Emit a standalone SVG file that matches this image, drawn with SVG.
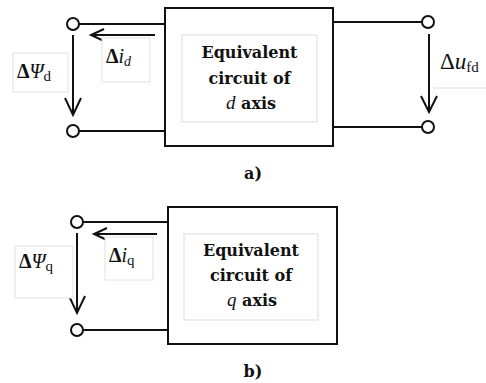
<svg xmlns="http://www.w3.org/2000/svg" width="486" height="383" viewBox="0 0 486 383">
<style>
.w{stroke:#111;stroke-width:2;fill:none}
.t{fill:#fff;stroke:#111;stroke-width:2}
.box{fill:#fff;stroke:#111;stroke-width:2}
.ib{fill:#fff;stroke:#ddd;stroke-width:1}
.lb{fill:#fff;stroke:#e2e2e2;stroke-width:1}
.bt{font-family:"DejaVu Serif","Liberation Serif",serif;font-weight:bold;font-size:16px;fill:#111;text-anchor:middle}
.m{font-family:"Liberation Serif",serif;font-size:20px;fill:#111}
.cap{font-family:"DejaVu Serif","Liberation Serif",serif;font-weight:bold;font-size:16px;fill:#111;text-anchor:middle}
.it{font-family:"Liberation Serif",serif;font-style:italic;font-weight:normal;font-size:19px}
</style>
<rect width="486" height="383" fill="#fff"/>
<g id="connectors">
<line class="w" x1="79" y1="24" x2="165" y2="24"/>
<line class="w" x1="79" y1="131" x2="165" y2="131"/>
<line class="w" x1="333" y1="22" x2="422" y2="22"/>
<line class="w" x1="333" y1="127" x2="422" y2="127"/>
<line class="w" x1="73" y1="35" x2="73" y2="115"/>
<polyline class="w" points="65,98 73,115 81,98"/>
<line class="w" x1="429" y1="34" x2="429" y2="112"/>
<polyline class="w" points="421,96 429,112 437,96"/>
<line class="w" x1="155" y1="35" x2="91" y2="35"/>
<polyline class="w" points="104,29 91,35 104,41"/>
<line class="w" x1="83" y1="222" x2="168" y2="222"/>
<line class="w" x1="83" y1="330" x2="168" y2="330"/>
<line class="w" x1="77" y1="233" x2="77" y2="313"/>
<polyline class="w" points="69,296 77,313 85,296"/>
<line class="w" x1="157" y1="234" x2="94" y2="234"/>
<polyline class="w" points="107,228 94,234 107,240"/>
</g>
<g id="terminals">
<circle class="t" cx="73" cy="24" r="6"/>
<circle class="t" cx="73" cy="131" r="6"/>
<circle class="t" cx="428" cy="22" r="6"/>
<circle class="t" cx="428" cy="127" r="6"/>
<circle class="t" cx="77" cy="222" r="6"/>
<circle class="t" cx="77" cy="330" r="6"/>
</g>
<g id="node-d">
<rect class="box" x="165" y="8" width="168" height="138"/>
<rect class="ib" x="182" y="35" width="135" height="87"/>
<text class="bt" x="249.5" y="58">Equivalent</text>
<text class="bt" x="249.5" y="84">circuit of</text>
<text class="bt" x="251" y="109"><tspan class="it">d</tspan> axis</text>
</g>
<g id="label-id">
<rect class="lb" x="102" y="38" width="48" height="44"/>
<text class="m" x="106" y="63"><tspan font-weight="bold">Δ</tspan><tspan font-style="italic">i</tspan><tspan font-style="italic" style="font-size:14px" dy="3">d</tspan></text>
</g>
<g id="label-psid">
<rect class="lb" x="13" y="53" width="55" height="39"/>
<text class="m" x="17" y="78"><tspan font-weight="bold">Δ</tspan><tspan font-style="italic">Ψ</tspan><tspan style="font-size:15px" dy="3">d</tspan></text>
</g>
<g id="label-ufd">
<line x1="433" y1="88" x2="486" y2="88" stroke="#ddd" stroke-width="1"/>
<text class="m" x="440" y="69" style="font-size:23px">Δ<tspan font-style="italic">u</tspan><tspan style="font-size:15px" dy="3">fd</tspan></text>
</g>
<g id="caption-a">
<text class="cap" x="253" y="179">a)</text>
</g>
<g id="node-q">
<rect class="box" x="168" y="207" width="169" height="137"/>
<rect class="ib" x="184" y="234" width="134" height="86"/>
<text class="bt" x="251" y="256">Equivalent</text>
<text class="bt" x="251" y="281">circuit of</text>
<text class="bt" x="252" y="306"><tspan class="it">q</tspan> axis</text>
</g>
<g id="label-iq">
<rect class="lb" x="105" y="237" width="48" height="43"/>
<text class="m" x="109" y="262"><tspan font-weight="bold">Δ</tspan><tspan font-style="italic">i</tspan><tspan style="font-size:15px" dy="3">q</tspan></text>
</g>
<g id="label-psiq">
<rect class="lb" x="15" y="246" width="58" height="52"/>
<text class="m" x="19" y="268"><tspan font-weight="bold">Δ</tspan><tspan font-style="italic">Ψ</tspan><tspan style="font-size:15px" dy="3">q</tspan></text>
</g>
<g id="caption-b">
<text class="cap" x="253" y="377">b)</text>
</g>
</svg>
